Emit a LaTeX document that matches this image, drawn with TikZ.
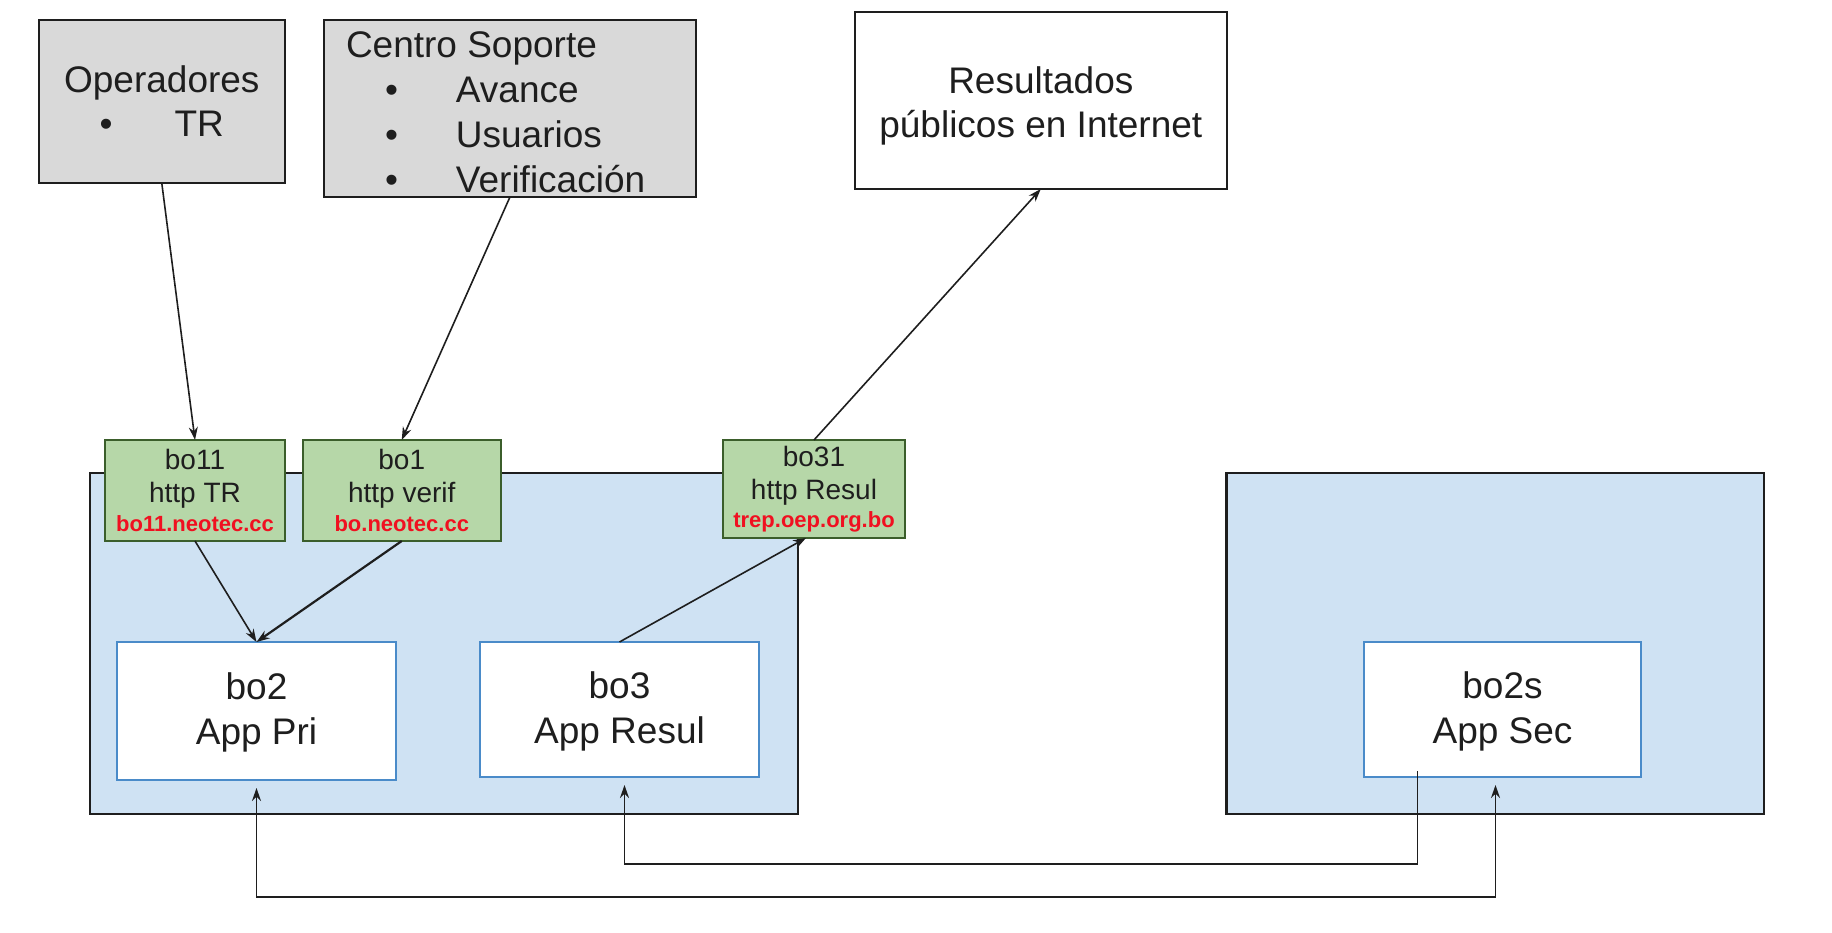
\documentclass[tikz,border=0pt]{standalone}
\usepackage{fontspec}
\setmainfont{Liberation Sans}
\usetikzlibrary{arrows.meta,calc}
\definecolor{greyfill}{HTML}{D9D9D9}
\definecolor{greenfill}{HTML}{B6D7A8}
\definecolor{greenline}{HTML}{3B5E2B}
\definecolor{bluefill}{HTML}{CFE2F3}
\definecolor{blueline}{HTML}{4A8BC9}
\definecolor{urlred}{HTML}{F01020}
\definecolor{ink}{HTML}{1E1E1E}
\begin{document}
\begin{tikzpicture}[x=1pt,y=-1pt,
  every node/.style={inner sep=0pt, outer sep=0pt},
  bigtxt/.style={font=\fontsize{37}{44}\selectfont, text=ink},
  greybox/.style={draw=ink, fill=greyfill, line width=2pt},
  plainbox/.style={draw=ink, fill=white, line width=2pt},
  container/.style={draw=ink, fill=bluefill, line width=2.5pt},
  portbox/.style={draw=greenline, fill=greenfill, line width=2pt, align=center,
     font=\fontsize{28}{33}\selectfont, text=ink},
  appbox/.style={draw=blueline, fill=white, line width=2pt, align=center,
     font=\fontsize{37}{45}\selectfont, text=ink},
  link/.style={draw=ink, line width=1.6pt, -{Stealth[length=13pt,width=9pt]}},
]
\useasboundingbox (0,0) rectangle (1832,933);

% containers
\node[container, minimum width=708, minimum height=341] (left) at (444,643.5) {};
\node[container, minimum width=537.4, minimum height=341] (right) at (1495.3,643.5) {};

% top boxes
\node[greybox, minimum width=246.4, minimum height=163.5] (op) at (161.8,101.5) {};
\node[bigtxt, align=center] (optext) at (161.8,101.5) {Operadores\\ •\hspace{62pt}TR};
\node[greybox, minimum width=372.4, minimum height=177.5] (cs) at (509.8,108.6) {};
\node[bigtxt, font=\fontsize{37}{45}\selectfont, align=left, anchor=west] (cstext) at (346,112.5)
  {Centro Soporte\\ \hspace*{39pt}•\hspace{58pt}Avance\\ \hspace*{39pt}•\hspace{58pt}Usuarios\\ \hspace*{39pt}•\hspace{58pt}Verificación};
\node[plainbox, minimum width=371.6, minimum height=177.3] (res) at (1040.8,100.35) {};
\node[bigtxt, align=center] (restext) at (1040.8,106)
  {Resultados\\públicos en Internet};

% port boxes
\node[portbox, minimum width=180, minimum height=101] (bo11) at (195,490.5)
  {bo11\\http TR\\[-4pt]{\fontsize{22}{26}\selectfont\bfseries\color{urlred}bo11.neotec.cc}};
\node[portbox, minimum width=198.5, minimum height=101] (bo1) at (401.75,490.5)
  {bo1\\http verif\\[-4pt]{\fontsize{22}{26}\selectfont\bfseries\color{urlred}bo.neotec.cc}};
\node[portbox, minimum width=182, minimum height=98] (bo31) at (814,489)
  {bo31\\http Resul\\[-5pt]{\fontsize{22}{26}\selectfont\bfseries\color{urlred}trep.oep.org.bo}};

% app boxes
\node[appbox, minimum width=279, minimum height=138, text depth=4pt] (bo2) at (256.5,711) {bo2\\App Pri};
\node[appbox, minimum width=279, minimum height=135, text depth=4pt] (bo3) at (619.5,709.5) {bo3\\App Resul};
\node[appbox, minimum width=277, minimum height=135, text depth=4pt] (bo2s) at (1502.5,709.5) {bo2s\\App Sec};

% connectors
\draw[link] (op.south) -- (bo11.north);
\draw[link] (cs.south) -- (bo1.north);
\draw[link] (bo31.north) -- (res.south);
\draw[link] (bo11.south) -- (bo2.north);
\draw[link, line width=2.2pt] (bo1.south) -- (bo2.north);
\draw[link] (bo3.north) -- ([xshift=-8pt]bo31.south);
\draw[link, shorten >=8pt] ([xshift=-85pt,yshift=6pt]bo2s.south) -- ++(0,93) -| ([xshift=5pt]bo3.south);
\draw[link, {Stealth[length=13pt,width=9pt]}-{Stealth[length=13pt,width=9pt]}, shorten >=8pt, shorten <=8pt]
  (bo2.south) -- ++(0,117) -| ([xshift=-7pt]bo2s.south);
\end{tikzpicture}
\end{document}
